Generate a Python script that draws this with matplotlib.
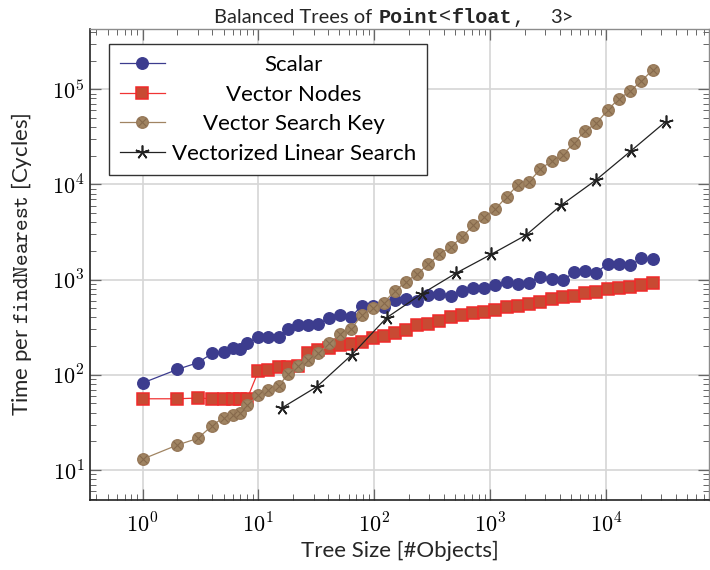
import numpy as np
import matplotlib
matplotlib.use('Agg')
import matplotlib.pyplot as plt
from matplotlib.ticker import LogLocator, FuncFormatter, NullFormatter

plt.rcParams['font.family'] = ['Lato', 'DejaVu Sans']
plt.rcParams['mathtext.fontset'] = 'cm'

# tree sizes (number of objects) for the three node layouts
sizes = [1, 2, 3, 4, 5, 6, 7, 8, 10, 12, 15, 18, 22, 27, 33, 41, 51, 63,
         78, 97, 121, 151, 188, 235, 293, 366, 457, 571, 713, 891, 1113,
         1391, 1738, 2172, 2715, 3393, 4241, 5301, 6626, 8282, 10352,
         12940, 16175, 20218, 25272]

# cycles per findNearest call
scalar = [82, 114, 134, 168, 175, 190, 185, 217, 248, 251, 251, 302, 330,
          333, 342, 398, 425, 404, 532, 528, 512, 611, 621, 596, 689, 703,
          667, 764, 811, 808, 874, 945, 907, 926, 1072, 1010, 980, 1195,
          1235, 1180, 1476, 1476, 1411, 1668, 1652]
vector_nodes = [56, 56, 57, 56, 56, 56, 56, 56, 109, 112, 120, 122, 123,
                168, 184, 190, 205, 210, 223, 242, 254, 275, 293, 333, 345,
                369, 402, 422, 448, 457, 484, 512, 528, 554, 586, 621, 652,
                678, 718, 746, 791, 816, 842, 885, 920]
search_key = [13, 18.3, 21.5, 29.3, 35.6, 37.5, 39.7, 48.2, 61, 69, 77, 101,
              125, 143, 168, 214, 266, 300, 425, 507, 572, 764, 950, 1145,
              1449, 1844, 2218, 2776, 3720, 4550, 5520, 7430, 9870, 10680,
              14420, 17630, 20370, 27420, 36640, 43830, 60500, 79500, 95000,
              122000, 159000]

# linear search was only measured on power-of-two sizes
linear_sizes = [16, 32, 64, 128, 256, 512, 1024, 2048, 4096, 8192, 16384,
                32768]
linear_search = [45, 75, 162, 398, 706, 1175, 1845, 2940, 6030, 11100,
                 22400, 45600]

W, H = 710, 570
fig = plt.figure(figsize=(W / 100, H / 100), dpi=100)
ax = fig.add_axes([90 / W, 70 / H, 619 / W, 470.7 / H])

ax.plot(sizes, scalar, '-o', color='#3c3c8e', ms=8.3, lw=0.9,
        label='Scalar')
ax.plot(sizes, vector_nodes, '-s', color='#f03434', mfc='#c84a33',
        mec='#f02a2a', ms=8.0, mew=1.1, lw=0.9, label='Vector Nodes')
key_line, = ax.plot(sizes, search_key, '-o', color='#a08462', mfc='#a08462',
                    mec='#97795a', ms=8.3, lw=0.9)
key_cross, = ax.plot(sizes, search_key, 'x', color='#86694c', ms=5.5,
                     mew=0.8)
ax.plot(linear_sizes, linear_search, '-', color='#222222', lw=0.9,
        marker=(5, 2, 0), ms=10, mew=1.2, label='Vectorized Linear Search')

ax.set_xscale('log')
ax.set_yscale('log')
ax.set_xlim(0.352, 77600)
ax.set_ylim(4.84, 4.26e5)

pow10 = FuncFormatter(lambda v, p: r'$10^{%d}$' % round(np.log10(v)))
for axis in (ax.xaxis, ax.yaxis):
    axis.set_major_locator(LogLocator(base=10, numticks=20))
    axis.set_minor_locator(LogLocator(base=10, subs=np.arange(2, 10),
                                      numticks=20))
    axis.set_major_formatter(pow10)
    axis.set_minor_formatter(NullFormatter())

ax.tick_params(which='both', direction='in', top=True, right=True,
               color='#666666', labelsize=16)
ax.tick_params(which='major', length=8, width=0.9)
ax.tick_params(which='minor', length=4.5, width=0.7)
ax.tick_params(axis='x', pad=9)
ax.tick_params(axis='y', pad=4)

ax.grid(True, which='major', color='#d6d6d6', lw=1.2)
ax.set_axisbelow(True)
for side in ('left', 'bottom'):
    ax.spines[side].set_color('#222222')
    ax.spines[side].set_linewidth(1.2)
for side in ('top', 'right'):
    ax.spines[side].set_color('#8c8c8c')
    ax.spines[side].set_linewidth(1.0)

ax.set_xlabel('Tree Size [#Objects]', fontsize=16, color='#262626')
ax.xaxis.set_label_coords(0.5, -0.086)
ax.set_ylabel(r'Time per $\mathtt{findNearest}$ [Cycles]', fontsize=16,
              color='#262626')
ax.yaxis.set_label_coords(-0.0905, 0.5)

handles, labels = ax.get_legend_handles_labels()
handles.insert(2, (key_line, key_cross))
labels.insert(2, 'Vector Search Key')
leg = ax.legend(handles, labels, loc='upper left',
                bbox_to_anchor=((109 - 90) / 619, (500 - 44) / 470.7),
                fontsize=16, frameon=True, fancybox=False,
                edgecolor='#333333', framealpha=1, borderaxespad=0,
                borderpad=0.5, handlelength=2.0, handletextpad=0.32,
                labelspacing=0.43)
leg.get_frame().set_linewidth(1.0)

renderer = fig.canvas.get_renderer()

# centre the legend labels within the label column
widths = [t.get_window_extent(renderer).width for t in leg.get_texts()]
for t, w in zip(leg.get_texts(), widths):
    t.set_x((max(widths) - w) / 2)

# title: sans and typewriter runs laid end to end, centred over the axes
sans = dict(family=['Lato', 'DejaVu Sans'], fontsize=14.5, color='#262626')
mono = dict(family='Liberation Mono', fontsize=14.5, color='#262626')
runs = [('Balanced Trees of', sans, 6),
        ('Point', dict(mono, weight='bold'), 0),
        ('<', mono, 0),
        ('float', dict(mono, weight='bold'), 0),
        (',', mono, 26),
        ('3>', sans, 0)]
ty = 1 - 23 / H
pieces = [fig.text(0, ty, s, ha='left', va='baseline', **kw)
          for s, kw, g in runs]
pw = [p.get_window_extent(renderer).width for p in pieces]
total = sum(pw) + sum(g for s, kw, g in runs)
x = 394 - total / 2
for p, w, (s, kw, g) in zip(pieces, pw, runs):
    p.set_x(x / W)
    x += w + g

fig.savefig('out.png', dpi=100)
